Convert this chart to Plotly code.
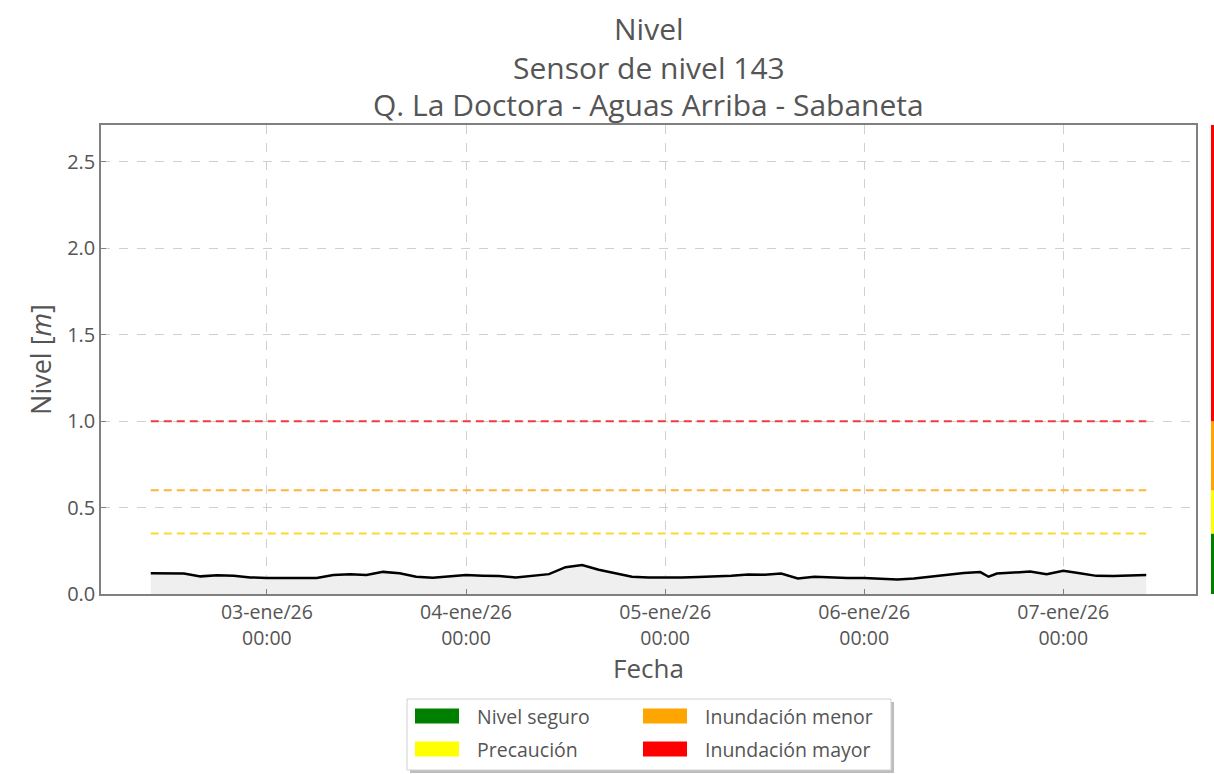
import plotly.graph_objects as go

# ---------------- data ----------------
times = [
    "2026-01-02 10:00", "2026-01-02 12:00", "2026-01-02 14:00", "2026-01-02 16:00",
    "2026-01-02 18:00", "2026-01-02 20:00", "2026-01-02 22:00", "2026-01-03 00:00",
    "2026-01-03 02:00", "2026-01-03 04:00", "2026-01-03 06:00", "2026-01-03 08:00",
    "2026-01-03 10:00", "2026-01-03 12:00", "2026-01-03 14:00", "2026-01-03 16:00",
    "2026-01-03 18:00", "2026-01-03 20:00", "2026-01-03 22:00", "2026-01-04 00:00",
    "2026-01-04 02:00", "2026-01-04 04:00", "2026-01-04 06:00", "2026-01-04 08:00",
    "2026-01-04 10:00", "2026-01-04 12:00", "2026-01-04 14:00", "2026-01-04 16:00",
    "2026-01-04 18:00", "2026-01-04 20:00", "2026-01-04 22:00", "2026-01-05 00:00",
    "2026-01-05 02:00", "2026-01-05 04:00", "2026-01-05 06:00", "2026-01-05 08:00",
    "2026-01-05 10:00", "2026-01-05 12:00", "2026-01-05 14:00", "2026-01-05 16:00",
    "2026-01-05 18:00", "2026-01-05 20:00", "2026-01-05 22:00", "2026-01-06 00:00",
    "2026-01-06 02:00", "2026-01-06 04:00", "2026-01-06 06:00", "2026-01-06 08:00",
    "2026-01-06 10:00", "2026-01-06 12:00", "2026-01-06 14:00", "2026-01-06 15:00",
    "2026-01-06 16:00", "2026-01-06 18:00", "2026-01-06 20:00", "2026-01-06 22:00",
    "2026-01-07 00:00", "2026-01-07 02:00", "2026-01-07 04:00", "2026-01-07 06:00",
    "2026-01-07 08:00", "2026-01-07 10:00",
]
levels = [
    0.120, 0.121, 0.118, 0.102, 0.108, 0.105, 0.096, 0.093,
    0.092, 0.092, 0.093, 0.110, 0.115, 0.110, 0.128, 0.120,
    0.100, 0.094, 0.100, 0.110, 0.106, 0.104, 0.095, 0.104,
    0.115, 0.155, 0.168, 0.140, 0.120, 0.100, 0.095, 0.094,
    0.096, 0.098, 0.100, 0.105, 0.113, 0.112, 0.118, 0.090,
    0.100, 0.094, 0.092, 0.092, 0.086, 0.084, 0.090, 0.100,
    0.110, 0.122, 0.127, 0.100, 0.118, 0.125, 0.130, 0.115,
    0.135, 0.120, 0.105, 0.104, 0.105, 0.110,
]

threshold_names = ["Nivel seguro", "Precaución", "Inundación menor", "Inundación mayor"]
threshold_colors = ["#008000", "#ffff00", "#ffa500", "#ff0000"]
threshold_lows = [0.0, 0.35, 0.6, 1.0]          # lower bound of each band
line_thresholds = [0.35, 0.6, 1.0]               # dashed lines
line_colors = ["#ffd632", "#ffb23c", "#f03c3c"]

title_lines = ["Nivel", "Sensor de nivel 143", "Q. La Doctora - Aguas Arriba - Sabaneta"]

y_max = 2.714
x_range = ["2026-01-02 04:00", "2026-01-07 16:00"]
tick_vals = ["2026-01-03", "2026-01-04", "2026-01-05", "2026-01-06", "2026-01-07"]
tick_text = ["03-ene/26<br>00:00", "04-ene/26<br>00:00", "05-ene/26<br>00:00",
             "06-ene/26<br>00:00", "07-ene/26<br>00:00"]
y_ticks = [0.0, 0.5, 1.0, 1.5, 2.0, 2.5]

FONT = "Open Sans"
TXT = "#555555"

# ---------------- layout geometry ----------------
W, H = 1214, 774
L, R, T, B = 101, 1196, 125, 594   # plot area in figure px

def px(x_pix):
    return (x_pix - L) / (R - L)

def py(y_pix):
    return (B - y_pix) / (B - T)

fig = go.Figure()

fig.add_trace(go.Scatter(
    x=times, y=levels, mode="lines",
    line=dict(color="black", width=2.5),
    fill="tozeroy", fillcolor="#efefef",
    showlegend=False, hoverinfo="x+y",
))

for thr, col in zip(line_thresholds, line_colors):
    fig.add_trace(go.Scatter(
        x=[times[0], times[-1]], y=[thr, thr], mode="lines",
        line=dict(color=col, width=2, dash="8px,5px"),
        showlegend=False, hoverinfo="skip",
    ))

shapes = []
# coloured side bar (outside the plot area, so in paper units on both axes)
bounds = threshold_lows + [y_max]
for i, col in enumerate(threshold_colors):
    shapes.append(dict(type="rect", xref="paper", yref="paper",
                       x0=px(1211), x1=px(1214),
                       y0=bounds[i] / y_max, y1=bounds[i + 1] / y_max,
                       fillcolor=col, line=dict(width=0)))

# manual legend
bx0, bx1, by0, by1 = 407, 891, 699, 770
shapes.append(dict(type="rect", xref="paper", yref="paper",
                   x0=px(bx0 + 3), x1=px(bx1 + 3), y0=py(by0 + 3), y1=py(by1 + 3),
                   fillcolor="#bdbdbd", line=dict(width=0)))
shapes.append(dict(type="rect", xref="paper", yref="paper",
                   x0=px(bx0), x1=px(bx1), y0=py(by0), y1=py(by1),
                   fillcolor="white", line=dict(color="#d0d0d0", width=1)))

annotations = []
sw_x = [415, 415, 643, 643]
sw_y = [716, 749, 716, 749]
for name, col, sx, sy in zip(threshold_names, threshold_colors, sw_x, sw_y):
    shapes.append(dict(type="rect", xref="paper", yref="paper",
                       x0=px(sx), x1=px(sx + 44), y0=py(sy - 7.5), y1=py(sy + 7.5),
                       fillcolor=col, line=dict(width=0)))
    annotations.append(dict(xref="paper", yref="paper", x=px(sx + 60), y=py(sy),
                            text=name, showarrow=False, xanchor="left", yanchor="middle",
                            font=dict(family=FONT, size=19.5, color=TXT)))

# title lines
for txt, yc in zip(title_lines, [28, 67, 104]):
    annotations.append(dict(xref="paper", yref="paper", x=0.5, y=py(yc),
                            text=txt, showarrow=False, xanchor="center", yanchor="middle",
                            font=dict(family=FONT, size=30, color=TXT)))

fig.update_layout(
    width=W, height=H,
    margin=dict(l=L, r=W - R, t=T, b=H - B),
    paper_bgcolor="white", plot_bgcolor="white",
    font=dict(family=FONT, color=TXT),
    xaxis=dict(type="date", range=x_range,
               tickvals=tick_vals, ticktext=tick_text,
               tickfont=dict(size=19.5, color=TXT),
               title=dict(text="Fecha", font=dict(size=26, color=TXT), standoff=10),
               showgrid=True, gridcolor="#d0d0d0", griddash="dash", gridwidth=1,
               showline=True, linecolor="#808080", linewidth=1.5, mirror=True,
               ticks="inside", ticklen=5, tickcolor="#808080", zeroline=False),
    yaxis=dict(range=[0, y_max], tickvals=y_ticks, tickformat=".1f",
               tickfont=dict(size=20, color=TXT),
               title=dict(text="Nivel [<i>m</i>]", font=dict(size=27, color=TXT), standoff=8),
               showgrid=True, gridcolor="#d0d0d0", griddash="dash", gridwidth=1,
               showline=True, linecolor="#808080", linewidth=1.5, mirror=True,
               ticks="inside", ticklen=5, tickcolor="#808080", zeroline=False),
    shapes=shapes,
    annotations=annotations,
    showlegend=False,
)

fig.write_html(
    "out.html",
    config={"displayModeBar": False},
    post_script="document.body.style.margin='0';document.body.style.overflow='hidden';",
)
